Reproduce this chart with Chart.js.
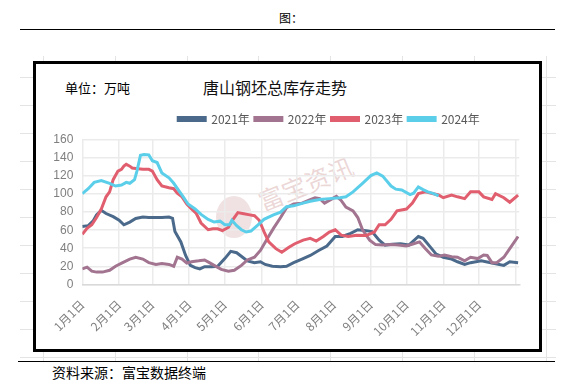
<!DOCTYPE html>
<html><head><meta charset="utf-8">
<script src="https://cdn.jsdelivr.net/npm/chart.js@4"></script>
<style>
body{margin:0;width:572px;height:387px;position:relative;overflow:hidden;background:#fff;font-family:"Noto Sans CJK SC","Noto Sans",sans-serif;}
.a{position:absolute;white-space:nowrap;}
</style></head><body>
<div id="grid"></div>
<div class="a" style="left:279px;top:11px;font-size:12px;line-height:13px;color:#000">图：</div>
<div class="a" style="left:20px;top:29px;width:535px;height:1px;background:#000"></div>
<div class="a" style="left:33px;top:61px;width:503px;height:285px;border:3px solid #000;background:#fff"></div>
<div class="a" style="left:216px;top:196px;width:36px;height:42px;border-radius:50%;background:rgba(200,150,150,0.28)"></div>
<div class="a" style="left:255px;top:169px;width:104px;height:26px;font-size:25px;line-height:26px;color:rgba(205,150,150,0.38);transform:rotate(-22deg);transform-origin:center">富宝资讯</div>
<div class="a" style="left:65px;top:81px;font-size:13px;line-height:14px;color:#000">单位：万吨</div>
<div class="a" style="left:203px;top:78px;font-size:16px;line-height:18px;color:#111">唐山钢坯总库存走势</div>
<div class="a" style="left:36px;top:64px;width:503px;height:285px"><canvas id="c" width="503" height="285"></canvas></div>
<div class="a" style="left:18px;top:361px;width:537px;height:1px;background:#000"></div>
<div class="a" style="left:52px;top:365px;font-size:14px;line-height:15px;color:#000">资料来源：富宝数据终端</div>
<script>
// faint spreadsheet grid behind the chart box
(function(){
  const g=document.getElementById('grid');
  [43,115,187,258,330,402,474,546].forEach(x=>{const d=document.createElement('div');d.className='a';d.style.cssText=`left:${x}px;top:56px;width:1px;height:305px;background:#e4e4e4`;g.appendChild(d);});
  for(let y=77;y<360;y+=28){const d=document.createElement('div');d.className='a';d.style.cssText=`left:20px;top:${y}px;width:536px;height:1px;background:#e4e4e4`;g.appendChild(d);}
})();

const monthStarts=[0,31,59,90,120,151,181,212,243,273,304,334,365];
const monthLabels=['1月1日','2月1日','3月1日','4月1日','5月1日','6月1日','7月1日','8月1日','9月1日','10月1日','11月1日','12月1日',''];
const seriesNames=['2021年','2022年','2023年','2024年'];

const days2021=[0,5,9,12,16,20,26,31,35,40,45,51,56,62,67,73,76,78,83,87,91,95,99,103,109,114,120,125,130,135,139,145,150,154,160,167,172,178,185,192,199,206,213,219,226,232,239,244,250,255,261,268,275,283,287,293,298,304,311,316,322,327,336,344,355,360,367];
const vals2021=[64,65,70,77,82,78.5,75,71,66,69,73,74.5,74,74,74,74.5,73,58.5,47,32,21,18.5,17,19.5,19.5,20,28.5,36.5,35,30,26,24,25,22,20,19.5,20,24,28,32,37.5,42.5,53,53,56.5,60.5,59.5,58.5,49,43.5,44.5,45,43.5,53,51,41.5,33.5,30,28,25,22,24,26,24,21,25,24];

const days2022=[0,4,8,12,17,23,28,34,40,45,51,56,62,67,73,77,80,84,88,92,98,103,107,111,117,123,128,134,139,145,150,156,161,167,172,178,185,192,196,200,204,208,214,218,222,228,232,236,242,247,253,260,266,273,279,284,289,294,300,305,311,316,322,327,333,338,341,345,349,355,360,367];
const vals2022=[17,19,14.5,13.5,13.5,15.5,20,24,28,30,28,24,22,23,22,20,30,28,23.5,25,26,27,24,21,16.5,14.5,15.5,21,27,30,37.5,51,62,74,85,89,90,94,96,95,90,93,97.5,93,85.5,81.5,74,60.5,49,44,43.5,44,43.5,42.5,45,47,39.5,32.5,31,32.5,30.5,30,26,30,28.5,32.5,32,24,24,30,39.5,53];

const days2023=[0,4,8,12,16,20,23,26,30,33,35,37,40,42,45,51,56,59,63,67,73,77,80,84,88,92,96,100,106,110,114,118,123,127,131,135,141,145,149,153,157,163,168,174,179,186,192,197,203,208,213,218,224,231,239,246,250,255,260,265,273,278,283,289,294,300,304,311,316,322,327,334,338,345,348,355,360,367];
const vals2023=[55.5,62,66,74,83.5,97,102.5,116,125.5,127.5,131,133,131,129,128.5,127.5,127.5,125.5,116,109,107,106,101,97,89,83.5,78.5,68,60.5,61.5,61.5,59.5,63,72,79.5,78.5,77,76,71,58.5,47,39.5,35.5,41,45,49,51,48,53,58,60.5,54.5,53,54.5,54,58,66,66,72,81.5,83.5,90,100.5,102.5,101,99,96,99,97,95,102.5,102.5,97,94,100.5,96,91,99];

const days2024=[0,5,10,16,23,28,33,37,40,44,46,49,52,56,59,63,67,73,77,81,85,89,95,100,106,111,116,120,124,126,130,134,138,142,148,153,161,167,172,178,186,192,200,208,217,222,228,236,243,248,253,260,264,269,276,279,283,287,291,296,300];
const vals2024=[100.5,106,113,115,112,109,110,113,112,116,125.5,143,144,143.5,137,135,123.5,118,112,104.5,97,89,83.5,77.5,72,69,70,66,66,71,65,60.5,58,59,66,72,77,80,86,87,90,92,94,95,96,97,102.5,112,120.5,123.5,120,109,105.5,104.5,99.5,101,108,105,102.5,100.5,98];

const colors=['#4B6A8B','#A27490','#E15E6E','#5BCFEA'];
const allDays=[days2021,days2022,days2023,days2024];
const allVals=[vals2021,vals2022,vals2023,vals2024];

const datasets=seriesNames.map((n,i)=>({
  label:n,
  data:allDays[i].map((d,k)=>({x:d,y:allVals[i][k]})),
  borderColor:colors[i],backgroundColor:colors[i],
  borderWidth:3,pointRadius:0,tension:0,fill:false,
  order:4-i
}));

const shiftLegend={id:'shiftLegend',afterLayout(chart){
  const l=chart.legend; if(!l) return;
  const dx=48, dy=-5;
  l.left+=dx; l.right+=dx; l.top+=dy; l.bottom+=dy;
  if(l.legendHitBoxes) l.legendHitBoxes.forEach(b=>{b.left+=dx;b.top+=dy;});
}};

new Chart(document.getElementById('c'),{
  type:'line',
  data:{datasets},
  plugins:[shiftLegend],
  options:{
    responsive:false,animation:false,devicePixelRatio:1,
    layout:{padding:{top:49,right:13,left:0,bottom:0}},
    plugins:{
      legend:{position:'top',labels:{boxWidth:27,boxHeight:3,padding:5,color:'#595959',
        font:{family:'"Noto Sans CJK SC"',size:12},
        sort:(a,b)=>a.datasetIndex-b.datasetIndex}},
      tooltip:{enabled:false},title:{display:false}
    },
    scales:{
      x:{type:'linear',min:0,max:368,
        afterBuildTicks:ax=>{ax.ticks=monthStarts.map(v=>({value:v}));},
        afterFit:s=>{s.height=64.7;},
        ticks:{autoSkip:false,minRotation:45,maxRotation:45,padding:13,color:'#7f7f7f',
          font:{family:'"Noto Sans CJK SC"',size:12},
          callback:(v)=>{const i=monthStarts.indexOf(v);return i>=0?monthLabels[i]:'';}},
        grid:{color:'#ebebeb',lineWidth:1.5,drawTicks:false},
        border:{color:'#d9d9d9',width:1.5}},
      y:{min:0,max:160,
        afterFit:s=>{s.width=46.3;},
        ticks:{stepSize:20,padding:9,color:'#7f7f7f',font:{family:'"Liberation Sans"',size:12}},
        grid:{color:'#ebebeb',lineWidth:1.5,drawTicks:false},
        border:{display:false}}
    }
  }
});
</script>
</body></html>
